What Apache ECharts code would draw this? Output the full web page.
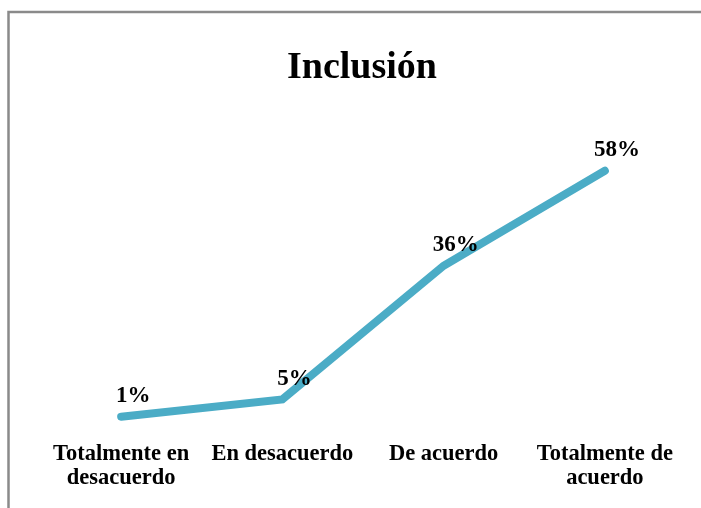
<!DOCTYPE html>
<html>
<head>
<meta charset="utf-8">
<script src="https://cdn.jsdelivr.net/npm/echarts@6/dist/echarts.min.js"></script>
<style>html,body{margin:0;padding:0;background:#fff;}#c{width:701px;height:508px;}</style>
</head>
<body>
<div id="c"></div>
<script>
var titleText = 'Inclusión';
var categories = ['Totalmente en\ndesacuerdo', 'En desacuerdo', 'De acuerdo', 'Totalmente de\nacuerdo'];
var values = [1, 5, 36, 58];

var chart = echarts.init(document.getElementById('c'), null, {renderer: 'canvas'});
var serif = '"Liberation Serif", "Times New Roman", serif';
chart.setOption({
  animation: false,
  backgroundColor: '#fff',
  graphic: [{
    type: 'rect', silent: true,
    shape: {x: 8.5, y: 12, width: 900, height: 900},
    style: {fill: 'none', stroke: '#8a8a8a', lineWidth: 2.5}
  }],
  title: {
    text: titleText, left: 282, top: 44,
    textStyle: {fontFamily: serif, fontWeight: 'bold', fontSize: 38, color: '#000'}
  },
  grid: {left: 40.5, right: 15.5, top: 119, bottom: 87, containLabel: false},
  xAxis: {
    type: 'category', data: categories, boundaryGap: true,
    axisLine: {show: false}, axisTick: {show: false},
    axisLabel: {interval: 0, margin: 21, fontFamily: serif, fontWeight: 'bold', fontSize: 22.5, lineHeight: 24, color: '#000'}
  },
  yAxis: {
    type: 'value', min: 0, max: 70, show: false, splitLine: {show: false}
  },
  series: [{
    type: 'line', data: values, symbol: 'circle', symbolSize: 6, showSymbol: true,
    itemStyle: {color: '#4bacc6', borderWidth: 0},
    lineStyle: {color: '#4bacc6', width: 8, cap: 'round', join: 'miter'},
    label: {
      show: true, position: 'top', distance: 6, offset: [12, 0],
      formatter: function (p) { return p.value + '%'; },
      fontFamily: serif, fontWeight: 'bold', fontSize: 23, color: '#000'
    }
  }]
});
</script>
</body>
</html>
